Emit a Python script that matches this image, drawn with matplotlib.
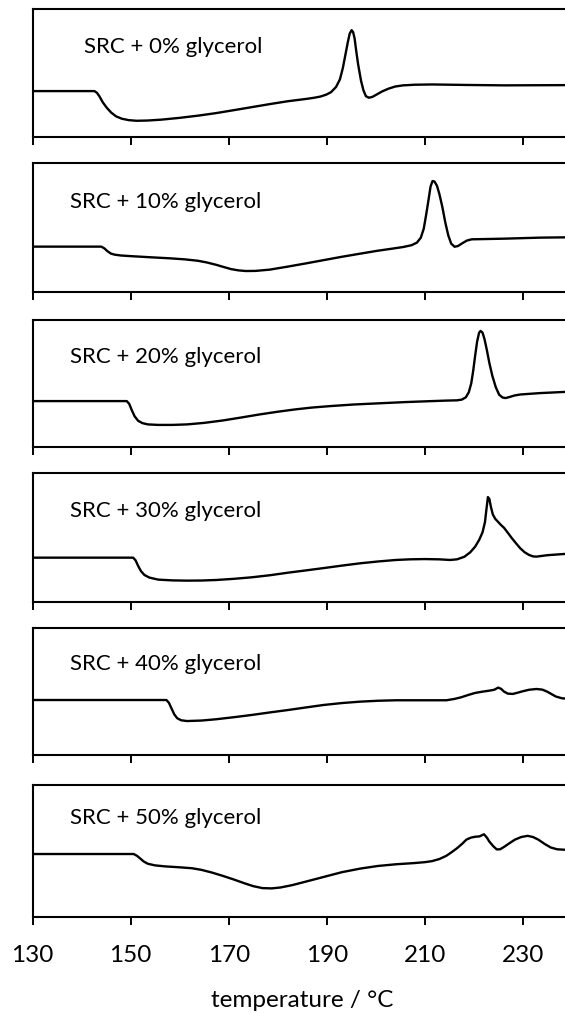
import numpy as np
import matplotlib.pyplot as plt

plt.rcParams['font.family'] = ['Lato', 'DejaVu Sans']

# DSC traces (y = fraction of panel height)
t0 = [130, 142.6, 143.1, 143.6, 144.3, 145.1, 146.0, 147.0, 148.2, 149.6, 151.2, 153.5, 156.3,
      160.0, 163.7, 167.4, 171.0, 174.7, 178.4, 182.0, 185.7, 187.5, 188.7, 189.9, 190.9,
      191.9, 192.7, 193.3, 193.8, 194.3, 194.7, 195.1, 195.4, 195.7, 196.0, 196.4, 197.0,
      197.5, 198.0, 198.6, 199.3, 200.0, 201.3, 202.6, 204.0, 205.6, 208.0, 211.5, 218.8,
      226.2, 240]
y0 = [0.358, 0.358, 0.345, 0.318, 0.270, 0.228, 0.190, 0.160, 0.141, 0.130, 0.125, 0.127, 0.134,
      0.148, 0.165, 0.185, 0.208, 0.232, 0.256, 0.278, 0.296, 0.306, 0.315, 0.330, 0.350,
      0.390, 0.450, 0.540, 0.640, 0.740, 0.810, 0.836, 0.820, 0.770, 0.680, 0.571, 0.440,
      0.364, 0.318, 0.306, 0.312, 0.327, 0.355, 0.377, 0.394, 0.403, 0.408, 0.410, 0.406,
      0.403, 0.405]

t10 = [130, 144.0, 144.6, 145.3, 146.0, 146.8, 148.0, 150.0, 154.1, 158.0, 161.0, 163.7, 165.5,
       167.4, 169.0, 170.5, 172.0, 173.5, 175.5, 178.4, 182.0, 185.7, 189.4, 193.1, 196.8,
       200.4, 203.5, 205.6, 207.3, 208.4, 209.2, 209.8, 210.3, 210.8, 211.2, 211.6, 212.0,
       212.5, 213.0, 213.6, 214.2, 214.8, 215.4, 216.1, 216.8, 217.7, 218.6, 219.6, 226.2,
       233.5, 240]
y10 = [0.351, 0.351, 0.338, 0.314, 0.296, 0.288, 0.282, 0.277, 0.268, 0.260, 0.252, 0.241, 0.228,
       0.210, 0.192, 0.176, 0.166, 0.161, 0.162, 0.172, 0.195, 0.220, 0.246, 0.272, 0.296,
       0.319, 0.336, 0.348, 0.362, 0.382, 0.420, 0.490, 0.600, 0.720, 0.820, 0.862, 0.858,
       0.825, 0.760, 0.660, 0.540, 0.440, 0.375, 0.350, 0.356, 0.378, 0.398, 0.408, 0.413,
       0.421, 0.424]

t20 = [130, 149.2, 149.7, 150.2, 150.8, 151.5, 152.4, 153.5, 155.6, 158.5, 161.5, 165.0, 168.8,
       172.5, 176.2, 180.0, 183.5, 187.0, 190.9, 195.5, 200.4, 206.0, 211.5, 214.5, 216.6,
       217.6, 218.4, 219.0, 219.5, 219.9, 220.3, 220.7, 221.1, 221.4, 221.8, 222.2, 222.7,
       223.2, 223.8, 224.5, 225.2, 225.9, 226.5, 227.3, 228.3, 229.5, 233.5, 240]
y20 = [0.360, 0.360, 0.338, 0.290, 0.240, 0.205, 0.186, 0.176, 0.172, 0.172, 0.176, 0.188, 0.207,
       0.230, 0.254, 0.276, 0.294, 0.309, 0.321, 0.333, 0.342, 0.352, 0.360, 0.364, 0.366,
       0.372, 0.390, 0.430, 0.500, 0.600, 0.720, 0.830, 0.900, 0.914, 0.900, 0.850, 0.760,
       0.660, 0.560, 0.470, 0.410, 0.388, 0.384, 0.392, 0.404, 0.412, 0.423, 0.435]

t30 = [130, 150.5, 151.0, 151.5, 152.1, 152.8, 153.8, 155.6, 158.5, 161.5, 164.5, 167.4, 171.0,
       174.7, 178.4, 182.1, 185.8, 189.4, 193.1, 196.8, 200.4, 204.1, 207.0, 210.0, 212.9,
       215.2, 216.6, 218.1, 219.3, 220.3, 221.1, 221.8, 222.3, 222.6, 222.9, 223.2, 223.5,
       223.9, 224.4, 224.9, 225.5, 226.2, 227.0, 227.8, 228.7, 229.5, 230.4, 231.3, 232.1,
       232.8, 235.0, 240]
y30 = [0.343, 0.343, 0.322, 0.280, 0.238, 0.208, 0.188, 0.172, 0.166, 0.164, 0.165, 0.169, 0.178,
       0.190, 0.206, 0.226, 0.244, 0.262, 0.281, 0.299, 0.313, 0.325, 0.330, 0.332, 0.330,
       0.325, 0.330, 0.350, 0.385, 0.429, 0.480, 0.540, 0.620, 0.720, 0.815, 0.800, 0.740,
       0.680, 0.645, 0.625, 0.600, 0.575, 0.535, 0.494, 0.452, 0.416, 0.385, 0.364, 0.353,
       0.351, 0.362, 0.376]

t40 = [130, 157.3, 157.8, 158.3, 158.9, 159.5, 160.3, 161.5, 164.5, 167.4, 171.0, 174.7, 178.4,
       182.1, 185.7, 189.4, 193.1, 196.8, 200.4, 204.1, 210.0, 214.4, 216.0, 217.4, 218.9,
       220.3, 221.8, 223.2, 224.2, 225.0, 225.6, 226.2, 227.0, 228.0, 229.0, 229.9, 231.3,
       232.8, 234.0, 235.0, 236.0, 236.8, 238.0, 240]
y40 = [0.434, 0.434, 0.412, 0.370, 0.320, 0.290, 0.274, 0.268, 0.272, 0.282, 0.298, 0.316, 0.336,
       0.355, 0.375, 0.395, 0.410, 0.421, 0.428, 0.432, 0.432, 0.432, 0.442, 0.455, 0.474,
       0.490, 0.500, 0.508, 0.515, 0.532, 0.522, 0.500, 0.484, 0.482, 0.492, 0.502, 0.515,
       0.521, 0.516, 0.500, 0.478, 0.461, 0.448, 0.440]

t50 = [130, 150.6, 151.3, 152.0, 152.7, 153.5, 154.9, 157.0, 160.0, 162.5, 164.4, 166.6, 168.8,
       171.0, 173.2, 175.0, 176.9, 178.8, 180.6, 183.0, 185.7, 189.4, 193.1, 196.8, 200.4,
       204.1, 207.8, 210.0, 211.5, 213.0, 214.4, 215.5, 216.6, 217.6, 218.5, 219.4, 220.3,
       221.2, 222.1, 222.7, 223.2, 224.0, 224.7, 225.4, 226.2, 227.3, 228.4, 229.7, 231.0,
       232.1, 233.2, 234.5, 235.7, 237.0, 240]
y50 = [0.476, 0.476, 0.462, 0.440, 0.418, 0.402, 0.390, 0.382, 0.375, 0.368, 0.356, 0.335, 0.310,
       0.283, 0.254, 0.232, 0.217, 0.215, 0.222, 0.240, 0.266, 0.302, 0.338, 0.365, 0.385,
       0.398, 0.407, 0.414, 0.422, 0.438, 0.462, 0.490, 0.520, 0.552, 0.585, 0.600, 0.607,
       0.610, 0.626, 0.600, 0.570, 0.535, 0.511, 0.512, 0.530, 0.558, 0.585, 0.605, 0.614,
       0.605, 0.585, 0.552, 0.526, 0.512, 0.505]

labels = ['SRC + 0% glycerol', 'SRC + 10% glycerol', 'SRC + 20% glycerol',
          'SRC + 30% glycerol', 'SRC + 40% glycerol', 'SRC + 50% glycerol']
label_x = [140.5, 137.6, 137.6, 137.6, 137.6, 137.6]
label_y = [0.655, 0.649, 0.66, 0.662, 0.671, 0.704]
temps = [t0, t10, t20, t30, t40, t50]
dsc = [y0, y10, y20, y30, y40, y50]
xticks = [130, 150, 170, 190, 210, 230]

W, H = 565, 1014
fig = plt.figure(figsize=(W / 100, H / 100), dpi=100)

# panel top/bottom edges in pixels
tops = [9.3, 163.3, 320, 473.3, 628.3, 785]
bots = [136.7, 291.7, 446.7, 601.7, 755, 916.7]
x0px = 32.7
pxdeg = 4.9

for i in range(6):
    ax = fig.add_axes([x0px / W, 1 - bots[i] / H, 110 * pxdeg / W, (bots[i] - tops[i]) / H])
    ax.plot(temps[i], dsc[i], color='black', lw=1.7, solid_joinstyle='round')
    ax.set_xlim(130, 240)
    ax.set_ylim(0, 1)
    ax.set_yticks([])
    ax.set_xticks(xticks)
    ax.tick_params(axis='x', direction='out', length=5.5, width=1.4, labelsize=17.5, pad=15)
    for s in ax.spines.values():
        s.set_linewidth(1.5)
    ax.text(label_x[i], label_y[i], labels[i], fontsize=16, va='baseline', ha='left')
    if i < 5:
        ax.set_xticklabels([])
    else:
        ax.set_xlabel('temperature / °C', fontsize=17.5, labelpad=17.5)

fig.savefig('out.png', dpi=100)
